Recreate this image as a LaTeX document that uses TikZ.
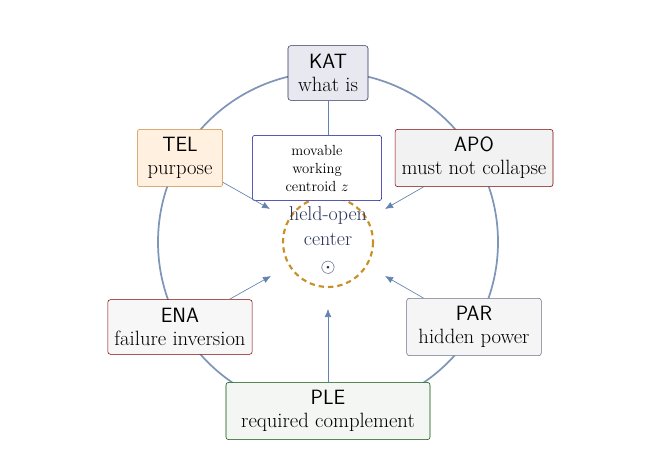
\documentclass[tikz,border=0pt]{standalone}
\usepackage{amssymb}
\usetikzlibrary{arrows.meta}
\definecolor{ringc}{RGB}{128,150,185}
\definecolor{arrc}{RGB}{100,130,175}
\definecolor{gold}{RGB}{200,145,40}
\definecolor{navy}{RGB}{40,50,90}
\tikzset{
  box/.style={draw,rounded corners=2pt,align=center,inner ysep=3pt,inner xsep=5pt,font=\fontsize{15.5}{17}\selectfont},
  link/.style={arrc,-{Latex[length=6pt,width=5pt]},line width=0.5pt},
}
\newcommand{\tag}[2]{\textsf{#1}\\#2}
\begin{document}
\begin{tikzpicture}[x=0.75pt,y=-0.75pt]
\useasboundingbox (0,0) rectangle (660,456);
%%
\draw[ringc,line width=1.3pt] (328,242) circle [radius=170];
\draw[gold,dashed,line width=1.6pt,dash pattern=on 4pt off 3pt] (328,242) circle [radius=45];
\node (hub) at (328,240) [text=navy,align=center,font=\fontsize{15}{19}\selectfont] {held-open\\center\\[1pt]$\odot$};
\node (kat) at (328,73) [box,draw=navy,fill=blue!20!gray!15,minimum width=60pt,minimum height=41pt] {\tag{KAT}{what is}};
\node (cen) at (317,168) [box,draw=blue!60!black,fill=white,font=\fontsize{11}{13.5}\selectfont,minimum width=97pt,minimum height=49pt] {movable\\working\\centroid $z$};
\node (tel) at (180,158) [box,draw=brown!80!orange,fill=orange!12,minimum width=64pt,minimum height=43pt] {\tag{TEL}{purpose}};
\node (apo) at (474,158) [box,draw=red!50!black,fill=red!5!gray!10,minimum height=43pt] {\tag{APO}{must not collapse}};
\node (ena) at (180,327) [box,draw=red!50!black,fill=red!4!gray!6,minimum height=41pt] {\tag{ENA}{failure inversion}};
\node (par) at (474,327) [box,draw=navy!70,fill=gray!8,minimum width=101pt,minimum height=43pt] {\tag{PAR}{hidden power}};
\node (ple) at (328,411) [box,draw=green!30!black,fill=green!10!gray!8,minimum width=153pt,minimum height=43pt] {\tag{PLE}{required complement}};
%
\coordinate (e1) at (270,209);
\coordinate (e2) at (385,209);
\coordinate (e3) at (271,276);
\coordinate (e4) at (385,276);
\coordinate (e5) at (328,309);
\draw[arrc,line width=0.5pt] (kat.south) -- (kat.south |- cen.north);
\draw[link] (tel) -- (e1);
\draw[link] (apo) -- (e2);
\draw[link] (ena) -- (e3);
\draw[link] (par) -- (e4);
\draw[link] (ple) -- (e5);
%
\end{tikzpicture}
\end{document}
